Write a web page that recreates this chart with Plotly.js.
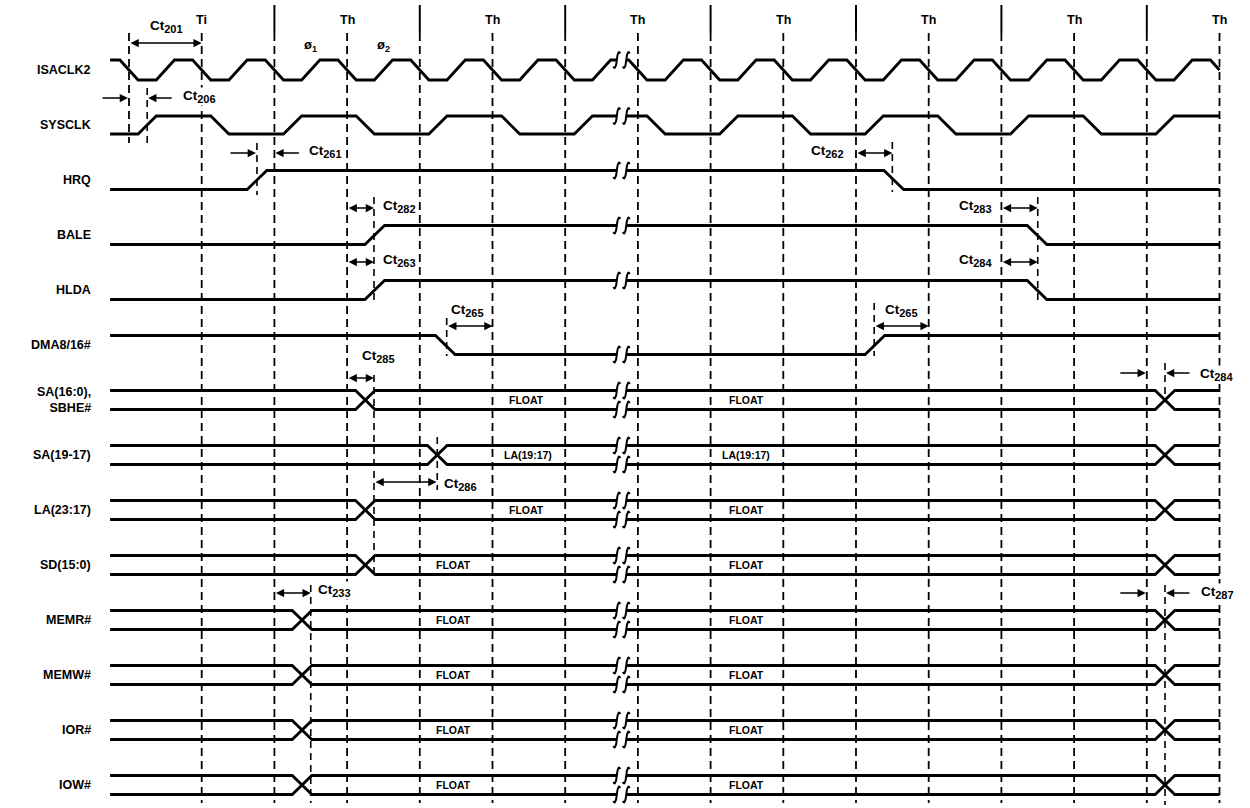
<!DOCTYPE html>
<html><head><meta charset="utf-8">
<script src="https://cdn.plot.ly/plotly-3.0.1.min.js"></script>
<style>html,body{margin:0;padding:0;background:#fff}</style>
</head><body><div id="chart" style="width:1250px;height:808px"></div>
<script>
// ===================== DATA (times in clock periods of ISACLK2) =====================
const signalNames = ['ISACLK2','SYSCLK','HRQ','BALE','HLDA','DMA8/16#','SA(16:0),<br>SBHE#',
  'SA(19-17)','LA(23:17)','SD(15:0)','MEMR#','MEMW#','IOR#','IOW#'];
const gridTimes = [0,1,2,3,4,5,6,7,8,9,10,11,12,13,14,15];
const cycleBoundaries = [2,4,6,8,10,12,14];
const phaseTimes = [1,3,5,7,9,11,13,15];
const phaseLabels = ['Ti','Th','Th','Th','Th','Th','Th','Th'];
const phiTimes = [2.5,3.5];
const phiLabels = ['ø<sub>1</sub>','ø<sub>2</sub>'];
const traceStart = -0.26, traceEnd = 15;
const breakTimes = [6.71, 6.84];

// clock edges (centres), first ISACLK2 edge is falling, first SYSCLK edge is rising
const isaclk2Edges = [0,0.5,1,1.5,2,2.5,3,3.5,4,4.5,5,5.5,6,6.5,7,7.5,8,8.5,9,9.5,10,10.5,11,11.5,12,12.5,13,13.5,14,14.5,15];
const sysclkEdges = [0.25,1.25,2.25,3.25,4.25,5.25,6.25,7.25,8.25,9.25,10.25,11.25,12.25,13.25,14.25];
// single-line signals: initial level and edge centres
const hrqInit = 0,  hrqEdges  = [1.76, 10.52];
const baleInit = 0, baleEdges = [3.38, 12.49];
const hldaInit = 0, hldaEdges = [3.38, 12.49];
const dmaInit = 1,  dmaEdges  = [4.35, 10.26];
// bus crossings
const sa16Cross = [3.25, 14.25];
const sa19Cross = [4.24, 14.25];
const la23Cross = [3.25, 14.25];
const sd15Cross = [3.25, 14.25];
const memrCross = [2.38, 14.25];
const memwCross = [2.38, 14.25];
const iorCross  = [2.38, 14.25];
const iowCross  = [2.38, 14.25];
// bus state labels
const sa16Text = ['FLOAT','FLOAT'],         sa16TextT = [5.47, 8.49];
const sa19Text = ['LA(19:17)','LA(19:17)'], sa19TextT = [5.49, 8.49];
const la23Text = ['FLOAT','FLOAT'],         la23TextT = [5.47, 8.49];
const lowerBusText = ['FLOAT','FLOAT'],     lowerBusTextT = [4.47, 8.49];
// timing parameters: name, t from, t to, style ('in' = |<->|, 'out' = ->| |<-)
const timingNames = ['201','206','261','262','282','263','265','265','283','284','285','284','286','233','287'];
const timingFrom = [0, 0,    1.76, 10,   3,    3,    4.37, 10.25, 12,   12,   3,    14,   3.37, 2,   14];
const timingTo   = [1, 0.25, 2,    10.5, 3.37, 3.37, 5,    11,    12.5, 12.5, 3.37, 14.25, 4.23, 2.5, 14.25];
const timingStyle= ['in','out','out','in','in','in','in','in','in','in','in','out','in','in','out'];

// ===================== LAYOUT / GEOMETRY =====================
const PX0 = 129, PXT = 72.7, W = 1250, H = 808;
const ROW0 = 70, ROW_GAP = 55;
const rowY = r => ROW0 + r * ROW_GAP;
const pxToT = p => p / PXT; // horizontal pixel distance -> time units
const AMP = 9.5, CLK_AMP = 10;
const CLK_W = 0.25, SIG_W = 0.27;

function wave(init, edges, w) {
  let lvl = init; const pts = [[traceStart, lvl]];
  edges.forEach(c => { pts.push([c - w/2, lvl]); lvl = 1 - lvl; pts.push([c + w/2, lvl]); });
  pts.push([traceEnd, lvl]);
  const out = [];
  for (let i = 0; i < pts.length; i++) {
    const p = pts[i];
    if (p[0] <= traceEnd) { out.push(p); }
    else {
      const q = out[out.length-1];
      const f = (traceEnd - q[0]) / (p[0] - q[0]);
      out.push([traceEnd, q[1] + f*(p[1]-q[1])]);
      break;
    }
  }
  return out;
}
function levelAt(pts, t) {
  for (let i = 0; i < pts.length-1; i++) {
    const a = pts[i], b = pts[i+1];
    if (t >= a[0] && t <= b[0]) return a[1] + (b[1]-a[1]) * (t-a[0]) / ((b[0]-a[0]) || 1);
  }
  return pts[pts.length-1][1];
}
function withBreak(pts) {
  const [b1, b2] = breakTimes;
  const out = [];
  let done = false;
  for (let i = 0; i < pts.length; i++) {
    const p = pts[i];
    if (!done && p[0] > b1) {
      out.push([b1, levelAt(pts, b1)]); out.push([null, null]); out.push([b2, levelAt(pts, b2)]);
      done = true;
      if (p[0] <= b2) continue;
    }
    out.push(p);
  }
  return out;
}
const X = [], Y = [];
const SX = [], SY = [];
function addSCurve(t, y) {
  const s = [[-3.5,6.5],[-2.2,8],[-0.9,5.5],[0,0],[0.9,-5.5],[2.2,-8],[3.5,-6.5]];
  s.forEach(d => { SX.push(t + pxToT(d[0])); SY.push(y + d[1]); });
  SX.push(null); SY.push(null);
}
function addLine(pts, yc, amp) {
  const wp = withBreak(pts);
  wp.forEach(p => { X.push(p[0]); Y.push(p[1] === null ? null : yc + amp - 2*amp*p[1]); });
  X.push(null); Y.push(null);
  breakTimes.forEach(bt => addSCurve(bt, yc + amp - 2*amp*levelAt(pts, bt)));
}

addLine(wave(1, isaclk2Edges, CLK_W), rowY(0), CLK_AMP);
addLine(wave(0, sysclkEdges, CLK_W), rowY(1), 9);
addLine(wave(hrqInit, hrqEdges, SIG_W), rowY(2), AMP);
addLine(wave(baleInit, baleEdges, SIG_W), rowY(3), AMP);
addLine(wave(hldaInit, hldaEdges, SIG_W), rowY(4), AMP);
addLine(wave(dmaInit, dmaEdges, SIG_W), rowY(5), AMP);
const buses = [sa16Cross, sa19Cross, la23Cross, sd15Cross, memrCross, memwCross, iorCross, iowCross];
buses.forEach((cr, i) => {
  addLine(wave(1, cr, SIG_W), rowY(6+i), AMP);
  addLine(wave(0, cr, SIG_W), rowY(6+i), AMP);
});

const GX = [], GY = [];
gridTimes.forEach(t => { GX.push(t, t, null); GY.push(33, t === 0 ? 143 : 803, null); });
const BX = [], BY = [];
cycleBoundaries.forEach(t => { BX.push(t, t, null); BY.push(5, 33, null); });
const marks = [
  [sysclkEdges[0], 88, 143],
  [hrqEdges[0], 143, 195],
  [hrqEdges[1] - 0.02, 142, 192],
  [3.37, 197, 305],
  [3.37, 375, 578],
  [sa19Cross[0], 437, 490],
  [4.37, 318, 356],
  [10.25, 303, 356],
  [12.5, 197, 300],
  [memrCross[0] + 0.12, 585, 803],
  [14.25, 363, 395],
  [14.25, 585, 805]
];
const MX = [], MY = [];
marks.forEach(m => { MX.push(m[0], m[0], null); MY.push(m[1], m[2], null); });

const traces = [
  {x: GX, y: GY, mode: 'lines', line: {color: '#000', width: 1.8, dash: '8px,5px'}, hoverinfo: 'skip'},
  {x: MX, y: MY, mode: 'lines', line: {color: '#000', width: 1.6, dash: '7px,5px'}, hoverinfo: 'skip'},
  {x: BX, y: BY, mode: 'lines', line: {color: '#000', width: 2}, hoverinfo: 'skip'},
  {x: X, y: Y, mode: 'lines', line: {color: '#000', width: 2.8}, hoverinfo: 'skip'},
  {x: SX, y: SY, mode: 'lines', line: {color: '#000', width: 2, shape: 'spline'}, hoverinfo: 'skip'}
];

// ===================== TEXT =====================
const FONT = 'Liberation Sans, Arial, Helvetica, sans-serif';
const ann = [];
function txt(t, y, s, size, xa, extra) {
  ann.push(Object.assign({x: t, y: y, xref: 'x', yref: 'y', text: s, showarrow: false,
    xanchor: xa || 'center', yanchor: 'middle', font: {family: FONT, size: size, color: '#000', weight: 700}}, extra || {}));
}
signalNames.forEach((n, i) => txt(pxToT(93 - PX0), rowY(i), n, 12.5, 'right', {align: 'right'}));
phaseTimes.forEach((t, i) => txt(t, 20, phaseLabels[i], 12.5));
phiTimes.forEach((t, i) => txt(t, 45, phiLabels[i], 13));
const busTexts = [[sa16Text, sa16TextT, 6], [sa19Text, sa19TextT, 7], [la23Text, la23TextT, 8]];
busTexts.forEach(b => b[0].forEach((s, k) => txt(b[1][k], rowY(b[2]), s, 10.5)));
for (let r = 9; r <= 13; r++) lowerBusText.forEach((s, k) => txt(lowerBusTextT[k], rowY(r), s, 10.5));

const arrowY =   [43, 98, 153, 153, 208, 262, 326, 326, 208, 262, 378, 373, 482, 593, 593];
const labelPos = [
  [0.52, 26, 'center'], [0.73, 96, 'left'], [2.46, 151, 'left'], [9.85, 151, 'right'],
  [3.48, 206, 'left'], [3.48, 260, 'left'], [4.65, 310, 'center'], [10.62, 310, 'center'],
  [11.88, 206, 'right'], [11.88, 260, 'right'], [3.43, 356, 'center'], [14.72, 374, 'left'],
  [4.32, 484, 'left'], [2.59, 590, 'left'], [14.73, 592, 'left']
];
function arrow(t0, t1, y, both) {
  ann.push({x: t1, y: y, ax: t0, ay: y, xref: 'x', yref: 'y', axref: 'x', ayref: 'y', text: '',
    showarrow: true, arrowhead: 2, arrowsize: 1.1, arrowwidth: 1.5, arrowcolor: '#000',
    arrowside: both ? 'end+start' : 'end', standoff: 0, startstandoff: 0});
}
timingNames.forEach((n, i) => {
  const a = timingFrom[i], b = timingTo[i], y = arrowY[i];
  if (timingStyle[i] === 'in') arrow(a, b, y, true);
  else { arrow(a - pxToT(28), a - pxToT(1), y, false); arrow(b + pxToT(26), b + pxToT(1), y, false); }
  const lp = labelPos[i];
  const label = 'Ct<sub><span style="font-size:11px">' + n + '</span></sub>';
  txt(lp[0], lp[1], label, 13.5, lp[2], {bgcolor: '#fff', borderpad: 0});
});

const layout = {
  width: W, height: H, margin: {l: 0, r: 0, t: 0, b: 0},
  paper_bgcolor: '#fff', plot_bgcolor: '#fff', showlegend: false,
  xaxis: {range: [-PX0/PXT, (W-PX0)/PXT], visible: false, fixedrange: true},
  yaxis: {range: [H, 0], visible: false, fixedrange: true},
  annotations: ann
};
Plotly.newPlot('chart', traces, layout, {staticPlot: true, displayModeBar: false});
</script></body></html>
